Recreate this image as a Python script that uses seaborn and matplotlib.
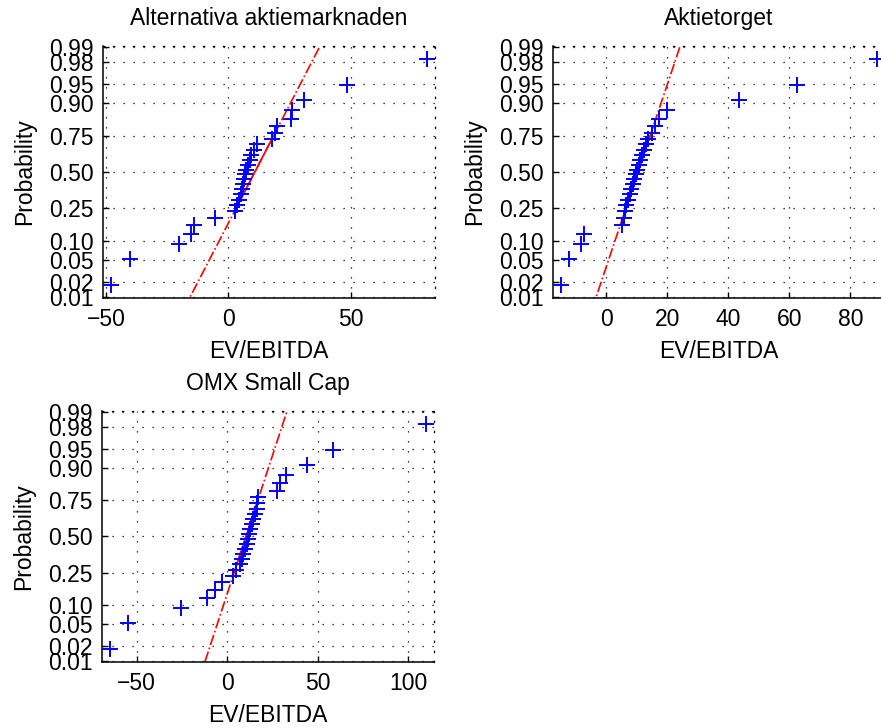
import numpy as np
import pandas as pd
import matplotlib
matplotlib.use("Agg")
import matplotlib.pyplot as plt
import seaborn as sns
from statistics import NormalDist

# EV/EBITDA per company, one list per market place
titles = ["Alternativa aktiemarknaden", "Aktietorget", "OMX Small Cap"]
alt_ev_ebitda = [-48.1, -40.2, -20.2, -15.4, -14.1, -5.6, 2.8, 3.5, 4.3, 5.0,
                 5.4, 5.9, 6.4, 6.9, 7.4, 8.0, 8.7, 9.4, 10.4, 11.6,
                 18.0, 19.0, 20.0, 25.5, 26.2, 30.9, 48.6, 81.4]
akt_ev_ebitda = [-14.9, -12.2, -8.3, -7.2, 5.2, 5.8, 6.2, 6.6, 7.1, 7.6,
                 8.1, 8.6, 9.1, 9.6, 10.1, 10.6, 11.1, 11.7, 12.3, 13.0,
                 13.8, 14.9, 15.8, 17.2, 19.9, 43.6, 62.4, 88.8]
omx_ev_ebitda = [-64.8, -54.9, -25.6, -11.3, -6.5, -3.0, 3.0, 4.6, 7.0, 7.9,
                 8.8, 9.7, 10.7, 11.2, 11.9, 12.5, 13.4, 14.3, 15.2, 16.2,
                 16.7, 17.0, 27.7, 29.0, 32.6, 44.0, 58.2, 109.9]
prob_ticks = [0.01, 0.02, 0.05, 0.10, 0.25, 0.50, 0.75, 0.90, 0.95, 0.98, 0.99]
x_steps = [50, 20, 50]

inv = NormalDist().inv_cdf

sns.set_theme(style="white")
plt.rcParams["font.family"] = ["Liberation Sans", "DejaVu Sans"]
FS = 16.5

DOTS = (0, (1, 7))


def normplot(ax, values, title, step):
    """normal probability plot, like matlab normplot"""
    x = np.sort(np.asarray(values, dtype=float))
    n = len(x)
    p = (np.arange(1, n + 1) - 0.5) / n
    z = np.array([inv(v) for v in p])
    df = pd.DataFrame({"EV/EBITDA": x, "z": z})

    # line through the quartiles
    q1, q3 = np.interp([0.25, 0.75], p, x)
    z1, z3 = inv(0.25), inv(0.75)
    slope = (z3 - z1) / (q3 - q1)
    rng = x[-1] - x[0]
    xlim = np.array([x[0] - 0.025 * rng, x[-1] + 0.025 * rng])
    ax.plot(xlim, z1 + slope * (xlim - q1), color="red", ls="-.", lw=1.2, zorder=2)
    ax.plot([q1, q3], [z1, z3], color="red", lw=1.2, zorder=2)

    sns.scatterplot(data=df, x="EV/EBITDA", y="z", marker="+", color="blue",
                    s=140, linewidth=1.4, ax=ax, zorder=3, legend=False)

    ax.set_xlim(xlim)
    zl = inv(0.0095)
    ax.set_ylim(zl, -zl)
    ax.set_yticks([inv(t) for t in prob_ticks])
    ax.set_yticklabels([f"{t:.2f}" for t in prob_ticks])
    ax.xaxis.set_major_locator(matplotlib.ticker.MultipleLocator(step))
    ax.grid(True, color="black", linestyle=DOTS, linewidth=0.9)
    ax.tick_params(direction="in", length=4, width=1, pad=7, colors="black",
                   labelsize=FS, bottom=True, left=True)
    for side in ["left", "bottom"]:
        ax.spines[side].set_color("black")
        ax.spines[side].set_linewidth(1.1)
    for side in ["top", "right"]:
        ax.spines[side].set_color("black")
        ax.spines[side].set_linestyle(DOTS)
        ax.spines[side].set_linewidth(0.9)
    ax.set_xlabel("EV/EBITDA", labelpad=7, fontsize=FS, color="black")
    ax.set_ylabel("Probability", labelpad=9, fontsize=FS, color="black")
    ax.set_title(title, pad=15, fontsize=FS, color="black")


fig = plt.figure(figsize=(8.81, 7.28), dpi=100)
ax1 = fig.add_axes([0.1169, 0.5907, 0.377, 0.3461])
ax2 = fig.add_axes([0.6277, 0.5907, 0.377, 0.3461])
ax3 = fig.add_axes([0.1158, 0.0907, 0.377, 0.3447])

for ax, vals, title, step in zip([ax1, ax2, ax3],
                                 [alt_ev_ebitda, akt_ev_ebitda, omx_ev_ebitda],
                                 titles, x_steps):
    normplot(ax, vals, title, step)

fig.savefig("out.png", dpi=100, facecolor="white")
